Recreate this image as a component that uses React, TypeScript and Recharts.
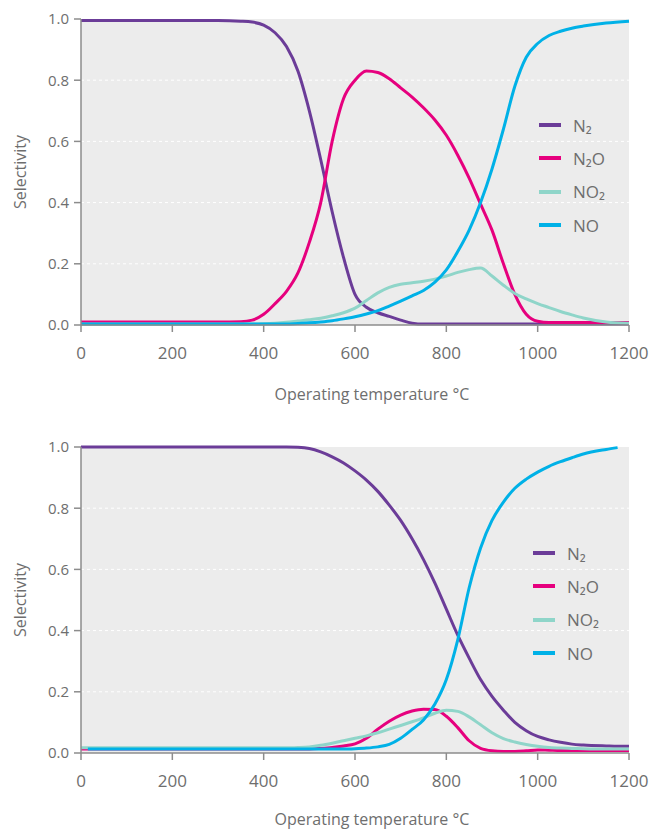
import React from 'react';
import { LineChart, Line, XAxis, YAxis, CartesianGrid, Label } from 'recharts';

// ---------- data ----------
const seriesNames = ['N₂', 'N₂O', 'NO₂', 'NO'];

const xTicks = [0, 200, 400, 600, 800, 1000, 1200];
const yTicks = [0, 0.2, 0.4, 0.6, 0.8, 1.0];

// Top chart
const topTemps = [0, 100, 200, 300, 350, 375, 400, 425, 450, 475, 500, 525, 550, 575, 600, 625, 650, 675, 700, 725, 750, 775, 800, 825, 850, 875, 900, 925, 950, 975, 1000, 1025, 1050, 1075, 1100, 1150, 1200];
const topN2 = [0.995, 0.995, 0.995, 0.995, 0.993, 0.99, 0.98, 0.955, 0.91, 0.83, 0.70, 0.54, 0.37, 0.22, 0.10, 0.058, 0.04, 0.028, 0.016, 0.006, 0.003, 0.003, 0.003, 0.003, 0.003, 0.003, 0.003, 0.003, 0.003, 0.003, 0.003, 0.003, 0.003, 0.003, 0.003, 0.003, 0.003];
const topN2O = [0.01, 0.01, 0.01, 0.01, 0.011, 0.016, 0.035, 0.07, 0.11, 0.17, 0.27, 0.40, 0.60, 0.74, 0.80, 0.83, 0.825, 0.805, 0.775, 0.745, 0.71, 0.67, 0.62, 0.555, 0.48, 0.395, 0.31, 0.20, 0.10, 0.035, 0.012, 0.008, 0.008, 0.008, 0.008, 0.008, 0.008];
const topNO2 = [0.003, 0.003, 0.003, 0.003, 0.003, 0.003, 0.004, 0.006, 0.009, 0.013, 0.017, 0.022, 0.03, 0.04, 0.055, 0.08, 0.105, 0.123, 0.133, 0.138, 0.143, 0.15, 0.16, 0.172, 0.181, 0.186, 0.16, 0.13, 0.103, 0.085, 0.07, 0.057, 0.044, 0.033, 0.023, 0.01, 0.006];
const topNO = [0.003, 0.003, 0.003, 0.003, 0.003, 0.003, 0.003, 0.003, 0.003, 0.005, 0.007, 0.01, 0.014, 0.02, 0.027, 0.036, 0.047, 0.062, 0.078, 0.095, 0.113, 0.14, 0.18, 0.24, 0.31, 0.40, 0.51, 0.64, 0.78, 0.875, 0.92, 0.946, 0.96, 0.97, 0.977, 0.987, 0.993];

// Bottom chart
const botTemps = [0, 15, 100, 200, 300, 400, 450, 475, 500, 525, 550, 575, 600, 625, 650, 675, 700, 725, 750, 775, 800, 825, 850, 875, 900, 925, 950, 975, 1000, 1025, 1050, 1075, 1100, 1150, 1175, 1200];
const botN2 = [1, 1, 1, 1, 1, 1, 1, 0.999, 0.995, 0.984, 0.968, 0.948, 0.922, 0.892, 0.855, 0.81, 0.76, 0.70, 0.632, 0.555, 0.47, 0.385, 0.31, 0.24, 0.185, 0.14, 0.10, 0.073, 0.054, 0.043, 0.035, 0.029, 0.026, 0.023, 0.022, 0.022];
const botN2O = [0.013, 0.013, 0.013, 0.013, 0.013, 0.013, 0.013, 0.013, 0.013, 0.015, 0.018, 0.023, 0.03, 0.048, 0.078, 0.104, 0.124, 0.137, 0.143, 0.142, 0.12, 0.083, 0.04, 0.015, 0.007, 0.005, 0.005, 0.007, 0.01, 0.009, 0.008, 0.008, 0.008, 0.008, 0.008, 0.008];
const botNO2 = [0.017, 0.017, 0.017, 0.017, 0.017, 0.017, 0.017, 0.018, 0.02, 0.025, 0.032, 0.04, 0.048, 0.056, 0.066, 0.078, 0.09, 0.102, 0.115, 0.13, 0.14, 0.136, 0.118, 0.092, 0.066, 0.047, 0.036, 0.028, 0.022, 0.018, 0.016, 0.015, 0.014, 0.013, 0.013, 0.013];
const botNO = [null, 0.013, 0.013, 0.013, 0.013, 0.013, 0.013, 0.013, 0.013, 0.013, 0.013, 0.013, 0.014, 0.016, 0.02, 0.028, 0.048, 0.077, 0.108, 0.16, 0.24, 0.37, 0.54, 0.67, 0.76, 0.82, 0.865, 0.895, 0.918, 0.937, 0.952, 0.965, 0.977, 0.992, 0.998, null];

// ---------- styles ----------
const FONT = '"Open Sans", "Noto Sans", sans-serif';
const TEXT = '#6e6e6e';
const AXIS = '#8c8c8c';
const COLORS = ['#6b3c98', '#e6007e', '#8fd5c9', '#00b1e7'];

const build = (temps: number[], a: (number | null)[], b: (number | null)[], c: (number | null)[], d: (number | null)[]) =>
  temps.map((t, i) => ({ t, s0: a[i], s1: b[i], s2: c[i], s3: d[i] }));

const topData = build(topTemps, topN2, topN2O, topNO2, topNO);
const botData = build(botTemps, botN2, botN2O, botNO2, botNO);

const LegendBox = ({ left, top }: { left: number; top: number }) => (
  <div style={{ position: 'absolute', left, top, fontFamily: FONT, fontSize: 17, color: TEXT }}>
    {seriesNames.map((n, i) => (
      <div key={n} style={{ display: 'flex', alignItems: 'center', height: 33.3 }}>
        <div style={{ width: 22, height: 4, background: COLORS[i], marginRight: 12 }} />
        <span>{n}</span>
      </div>
    ))}
  </div>
);

type PanelProps = { data: any[]; top: number; height: number; legendLeft: number; legendTop: number; labelDy: number };

const Panel = ({ data, top, height, legendLeft, legendTop, labelDy }: PanelProps) => (
  <div style={{ position: 'absolute', left: 0, top, width: 650, height }}>
    <LineChart width={650} height={height} data={data} margin={{ top: 19, right: 21, bottom: 0, left: 0 }}>
      <CartesianGrid
        vertical={false}
        horizontalValues={[0.2, 0.4, 0.6, 0.8]}
        stroke="#ffffff"
        strokeDasharray="3 3"
        fill="#ececec"
      />
      <XAxis
        dataKey="t"
        type="number"
        domain={[0, 1200]}
        ticks={xTicks}
        height={height - 325}
        tickSize={7}
        tickMargin={15}
        axisLine={{ stroke: AXIS, strokeWidth: 1.5 }}
        tickLine={{ stroke: AXIS, strokeWidth: 1.5 }}
        tick={{ fill: TEXT, fontSize: 17, fontFamily: FONT }}
      >
        <Label value="Operating temperature °C" position="center" dx={17} dy={labelDy} style={{ fill: TEXT, fontSize: 16, fontFamily: FONT }} />
      </XAxis>
      <YAxis
        domain={[0, 1]}
        ticks={yTicks}
        width={81}
        tickSize={7}
        tickMargin={5}
        tickFormatter={(v: number) => v.toFixed(1)}
        axisLine={{ stroke: AXIS, strokeWidth: 1.5 }}
        tickLine={{ stroke: AXIS, strokeWidth: 1.5 }}
        tick={{ fill: TEXT, fontSize: 15, fontFamily: FONT }}
      >
        <Label value="Selectivity" angle={-90} position="center" dx={-20} style={{ fill: TEXT, fontSize: 16, fontFamily: FONT, textAnchor: 'middle' }} />
      </YAxis>
      {['s0', 's1', 's2', 's3'].map((k, i) => (
        <Line
          key={k}
          type="monotone"
          dataKey={k}
          name={seriesNames[i]}
          stroke={COLORS[i]}
          strokeWidth={3}
          dot={false}
          activeDot={false}
          isAnimationActive={false}
        />
      ))}
    </LineChart>
    <LegendBox left={legendLeft} top={legendTop} />
  </div>
);

export default function App() {
  return (
    <div style={{ position: 'absolute', left: 0, top: 0, width: 650, height: 831, background: '#fff', overflow: 'hidden' }}>
      <Panel data={topData} top={0} height={413} legendLeft={539} legendTop={108.5} labelDy={25} />
      <Panel data={botData} top={428} height={403} legendLeft={533} legendTop={108.5} labelDy={27} />
    </div>
  );
}
